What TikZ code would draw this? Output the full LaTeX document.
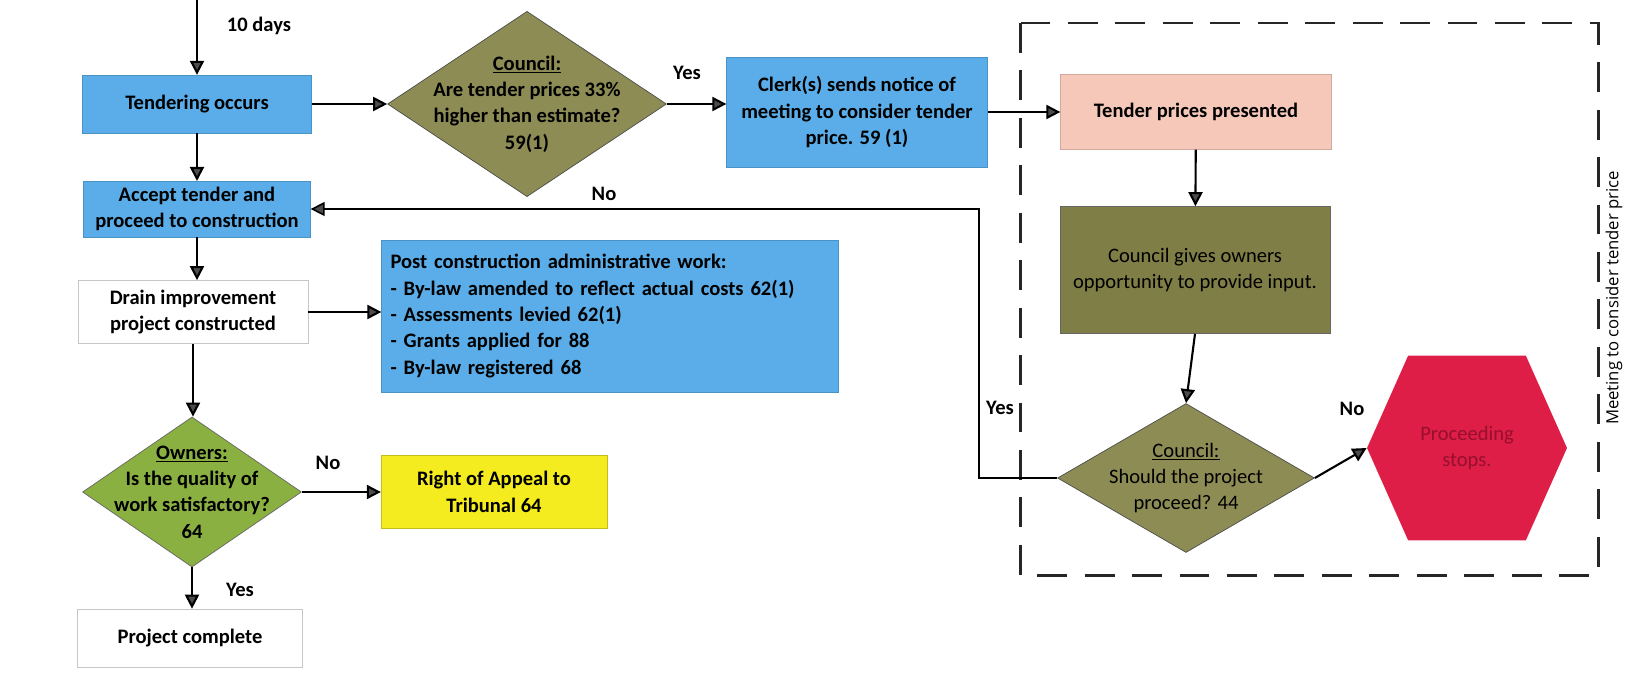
\documentclass[tikz,border=0pt]{standalone}
\usepackage{fontspec}
\setmainfont{Carlito}
\newfontfamily\sidefont{Open Sans}
\usetikzlibrary{shapes.geometric,shapes.symbols,arrows.meta}

\definecolor{boxblue}{RGB}{90,173,232}
\definecolor{olivegray}{RGB}{140,140,84}
\definecolor{olivedark}{RGB}{126,126,70}
\definecolor{owngreen}{RGB}{139,176,66}
\definecolor{appyellow}{RGB}{245,236,32}
\definecolor{pinkish}{RGB}{246,200,186}
\definecolor{stopred}{RGB}{222,30,70}
\definecolor{stoptext}{RGB}{150,15,45}

\tikzset{
  bluebox/.style={rectangle,fill=boxblue,draw=boxblue!85!black,very thin},
  whitebox/.style={rectangle,fill=white,draw=gray!45,thin},
  olivediam/.style={diamond,fill=olivegray,draw=black!70,thin,inner sep=-14pt},
  owndiam/.style={diamond,fill=owngreen,draw=black!60,thin,inner sep=-14pt},
  stopshape/.style={signal,signal to=west and east,signal pointer angle=132,fill=stopred,text=stoptext,font=\fontsize{11.7}{15}\selectfont},
  lbl/.style={font=\fontsize{11.7}{15}\selectfont\bfseries},
  arr/.style={line width=1.2pt,-{Triangle[width=8pt,length=8pt,fill=gray!60!black]}},
  backarr/.style={line width=0.9pt,-{Triangle[width=8pt,length=8pt,fill=gray!60!black]}}
}

\begin{document}
\begin{tikzpicture}[x=0.02cm,y=-0.02cm,every node/.style={align=center,font=\fontsize{11.7}{15}\selectfont\bfseries}]
        \useasboundingbox (0,0) rectangle (1633,677);

        % left column
        \node[bluebox,minimum width=4.58cm,minimum height=1.16cm] (tender) at (197,104) {Tendering occurs};
        \node[bluebox,minimum width=4.54cm,minimum height=1.02cm] (accept) at (197,209) {Accept tender and\\proceed to construction};
        \node[whitebox,minimum width=4.6cm,minimum height=1.26cm] (drain) at (193,312) {Drain improvement\\project constructed};
        \node[owndiam,minimum width=4.38cm,minimum height=2.92cm] (owners) at (192,492) {\underline{Owners:}\\Is the quality of\\work satisfactory?\\64};
        \node[whitebox,minimum width=4.5cm,minimum height=1.16cm] (done) at (190,638) {Project complete};

        \node[bluebox,align=left,text width=8.78cm,inner xsep=0.18cm,minimum height=3.04cm] (post) at (610,316) {Post construction administrative work:\\- By-law amended to reflect actual costs 62(1)\\- Assessments levied 62(1)\\- Grants applied for 88\\- By-law registered 68};
        \node[rectangle,fill=appyellow,draw=appyellow!80!black,very thin,minimum width=4.52cm,minimum height=1.46cm] (appeal) at (494,492) {Right of Appeal to\\Tribunal 64};

        % top row
        \node[olivediam,minimum width=5.58cm,minimum height=3.56cm] (price) at (527,104) {\underline{Council:}\\Are tender prices 33\%\\higher than estimate?\\59(1)};
        \node[bluebox,minimum width=5.22cm,minimum height=2.2cm] (clerk) at (857,112) {Clerk(s) sends notice of\\meeting to consider tender\\price. 59 (1)};

        % meeting
        \node[rectangle,fill=pinkish,draw=pinkish!85!black,very thin,minimum width=5.42cm,minimum height=1.5cm] (present) at (1196,112) {Tender prices presented};
        \node[rectangle,fill=olivedark,draw=black!60,thin,minimum width=5.4cm,minimum height=2.54cm,font=\fontsize{11.7}{15}\selectfont] (input) at (1195,270) {Council gives owners\\opportunity to provide input.};
        \node[olivediam,minimum width=5.14cm,minimum height=2.98cm,font=\fontsize{11.7}{15}\selectfont] (proceed) at (1186,478) {\underline{Council:}\\Should the project\\proceed? 44};
        \node[stopshape,minimum width=4.0cm,minimum height=3.7cm] (stop) at (1467,448) {Proceeding\\stops.};

        \draw[black!85,line width=1.7pt,dash pattern=on 17pt off 10pt] (1020,23) rectangle (1598,575);
        \node[rotate=90,font=\sidefont\fontsize{9.5}{12}\selectfont] (meet) at (1614,298) {Meeting to consider tender price};

        % labels
        \node[lbl] (days) at (259,26) {10 days};
        \node[lbl] (yes1) at (687,73) {Yes};
        \node[lbl] (no1) at (604,194) {No};
        \node[lbl] (yes2) at (1000,408) {Yes};
        \node[lbl] (no2) at (1352,409) {No};
        \node[lbl] (no3) at (328,463) {No};
        \node[lbl] (yes3) at (240,590) {Yes};

        \coordinate (start) at (197,0);
        \coordinate (bend) at (979,0);

        \draw[arr] (start) -- (tender.north);
        \draw[arr] (tender) -- (accept);
        \draw[arr] (accept.south) -- (accept.south |- drain.north);
        \draw[arr] (drain.south) -- (drain.south |- owners.north);
        \draw[arr] (owners.south) -- (owners.south |- done.north);
        \draw[arr] (drain.east) -- (drain.east -| post.west);
        \draw[arr] (owners.east) -- (appeal.west);
        \draw[arr] (tender.east) -- (price.west);
        \draw[arr] (price.east) -- (price.east -| clerk.west);
        \draw[arr] (clerk.east) -- (present.west);
        \draw[arr] (present) -- (input);
        \draw[arr] (input.south) -- (proceed.north);
        \draw[arr] (proceed.east) -- (stop.west);
        \draw[backarr] (proceed.west) -- (proceed.west -| bend) |- (accept.east);
\end{tikzpicture}
\end{document}
